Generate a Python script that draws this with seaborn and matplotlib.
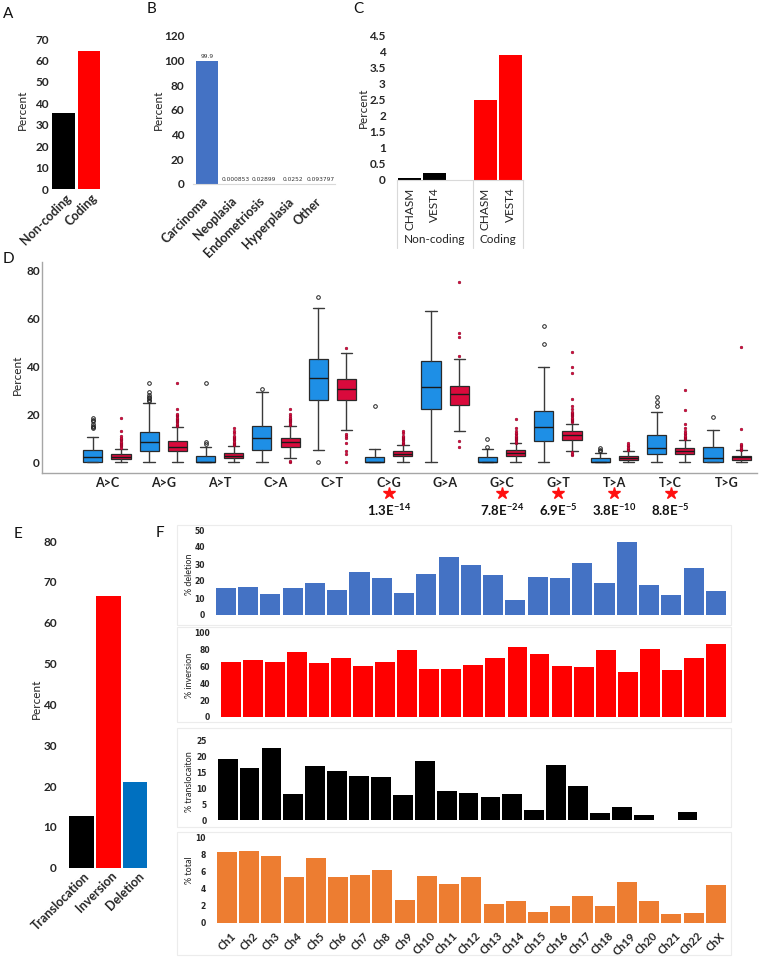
import numpy as np
import matplotlib
matplotlib.use("Agg")
import matplotlib.pyplot as plt
import matplotlib.transforms as mtransforms
from matplotlib.patches import Rectangle
import seaborn as sns

sns.set_style("white")
plt.rcParams["font.family"] = ["Lato", "DejaVu Sans"]
plt.rcParams["mathtext.fontset"] = "custom"
plt.rcParams["mathtext.rm"] = "Lato"
plt.rcParams["mathtext.bf"] = "Lato:bold"

# ---- data ----
# A
coding_labels = ["Non-coding", "Coding"]
coding_pct = [35.7, 64.3]

# B
disease_labels = ["Carcinoma", "Neoplasia", "Endometriosis", "Hyperplasia", "Other"]
disease_pct = [99.9, 0.000853, 0.02899, 0.0252, 0.093797]
disease_text = ["99.9", "0.000853", "0.02899", "0.0252", "0.093797"]

# C
tool_labels = ["CHASM", "VEST4", "CHASM", "VEST4"]
tool_groups = ["Non-coding", "Non-coding", "Coding", "Coding"]
tool_pct = [0.05, 0.22, 2.5, 3.92]

# D  (box summaries: low whisker, q1, median, q3, high whisker)
mut_types = ["A>C", "A>G", "A>T", "C>A", "C>T", "C>G",
             "G>A", "G>C", "G>T", "T>A", "T>C", "T>G"]
blue_whislo = [0, 0, 0, 0, 5.0, 0, 0, 0, 0, 0, 0, 0]
blue_q1 = [0, 4.4, 0, 5.0, 25.8, 0, 22.0, 0, 8.75, 0, 3.5, 0]
blue_med = [2.2, 8.2, 0, 9.9, 34.9, 0, 31.1, 0, 14.6, 0.2, 5.7, 1.7]
blue_q3 = [5.0, 12.6, 2.5, 15.0, 42.9, 2.0, 42.0, 2.0, 21.1, 1.5, 11.4, 6.1]
blue_whishi = [10.3, 24.7, 6.4, 29.3, 64.3, 5.3, 63.0, 5.3, 39.4, 3.9, 20.7, 13.3]
blue_fliers = [
    [14, 14.5, 15, 16, 17, 17.5, 18.5],
    [25.5, 26, 26.5, 27, 28, 29, 33],
    [7.5, 8.2, 33],
    [30.5],
    [0, 68.6],
    [23.5],
    [],
    [6.2, 9.4],
    [49.4, 56.7],
    [4.5, 5.2, 6.0],
    [23.3, 25.1, 27.1],
    [18.6],
]
red_whislo = [0, 0, 0, 1.5, 13.3, 0, 12.8, 0, 4.6, 0, 0, 0]
red_q1 = [1.1, 4.7, 1.7, 6.4, 25.8, 2.5, 23.8, 2.6, 9.3, 0.8, 3.2, 0.8]
red_med = [2.1, 6.4, 2.6, 8.3, 30.3, 3.5, 28.2, 3.9, 11.25, 1.7, 4.6, 1.9]
red_q3 = [3.3, 8.75, 3.75, 10.0, 34.4, 4.6, 31.7, 5.0, 12.9, 2.5, 6.0, 2.6]
red_whishi = [5.6, 14.7, 6.7, 15.0, 45.6, 7.1, 42.9, 7.8, 16.0, 4.6, 9.2, 4.9]
red_fliers = [
    [6, 6.5, 7, 7.5, 8, 8.5, 9, 9.5, 10, 11, 13, 18.2],
    [15, 15.5, 16, 16.5, 17, 17.5, 18, 18.5, 19, 19.5, 20, 22, 33],
    [7, 7.5, 8, 8.5, 9, 9.5, 10, 10.5, 11, 12, 13, 14],
    [0, 0.5, 15.5, 16, 16.5, 17, 17.5, 18, 18.5, 19, 20, 22],
    [0, 3.3, 4.6, 8.1, 9.9, 11, 11.7, 47.4],
    [7.5, 8, 8.5, 9, 9.5, 10, 10.5, 11, 12, 13],
    [6.4, 8.75, 44.3, 52, 53.6, 74.9],
    [8, 8.5, 9, 9.5, 10, 10.5, 11, 11.5, 12, 13, 14, 17.8],
    [3, 3.5, 4, 16.5, 17, 17.5, 18, 18.5, 19, 19.5, 20, 20.5, 21, 22, 23.3,
     26.25, 37.2, 39.6, 45.7],
    [5, 5.5, 6, 6.5, 7, 8],
    [9.5, 10, 10.5, 11, 11.5, 12, 13, 14, 16, 21.5, 29.9],
    [5.2, 5.6, 6, 6.5, 7, 7.5, 13.75, 47.8],
]
pvalue_types = ["C>G", "G>C", "G>T", "T>A", "T>C"]
pvalue_text = [r"$\mathbf{1.3E^{-14}}$", r"$\mathbf{7.8E^{-24}}$", r"$\mathbf{6.9E^{-5}}$",
               r"$\mathbf{3.8E^{-10}}$", r"$\mathbf{8.8E^{-5}}$"]

# E
sv_labels = ["Translocation", "Inversion", "Deletion"]
sv_pct = [12.6, 66.6, 20.9]

# F
chrom_labels = ["Ch%d" % i for i in range(1, 23)] + ["ChX"]
pct_deletion = [15.7, 16.3, 12.2, 15.6, 18.7, 14.8, 25.4, 21.9, 13.2, 24.4, 34.4, 29.5,
                23.4, 8.9, 22.2, 21.9, 30.5, 19.1, 42.9, 17.5, 12.0, 27.6, 14.2]
pct_inversion = [65.2, 67.2, 65.2, 76.2, 64.0, 69.9, 60.5, 64.8, 78.6, 57.0, 56.2, 61.7,
                 69.2, 82.5, 74.3, 60.5, 58.5, 78.6, 53.0, 80.5, 55.8, 69.5, 86.0]
pct_translocation = [19.2, 16.4, 22.7, 8.1, 17.0, 15.3, 14.0, 13.6, 7.9, 18.7, 9.2, 8.6,
                     7.4, 8.3, 3.2, 17.4, 10.7, 2.1, 4.2, 1.7, 0, 2.5, 0]
pct_total = [8.3, 8.4, 7.8, 5.4, 7.6, 5.3, 5.6, 6.2, 2.6, 5.5, 4.5, 5.3,
             2.2, 2.5, 1.3, 2.0, 3.1, 2.0, 4.8, 2.5, 1.0, 1.1, 4.4]

# ---- layout helpers ----
W, H = 761, 960
fig = plt.figure(figsize=(W / 100, H / 100), dpi=100)
TICK = "#262626"


def box(l, t, r, b):
    return [l / W, 1 - b / H, (r - l) / W, (b - t) / H]


def ftext(x, y, s, **kw):
    fig.text(x / W, 1 - y / H, s, **kw)


def clean(ax):
    for s in ax.spines.values():
        s.set_visible(False)
    ax.set_xlabel("")
    ax.set_ylabel("")


def yticks(ax, ticks, size=8.5, pad=3, family=None):
    ax.set_yticks(ticks)
    ax.tick_params(axis="y", length=0, pad=pad, labelsize=size, labelcolor=TICK)
    for lab in ax.get_yticklabels():
        lab.set_fontweight("bold")
        if family:
            lab.set_family(family)


def rot_xticks(ax, labels, size, pad, dx):
    ax.set_xticks(range(len(labels)), labels, rotation=45, ha="right",
                  fontsize=size, fontweight="bold", color=TICK)
    ax.tick_params(axis="x", length=0, pad=pad)
    off = mtransforms.ScaledTranslation(dx / 100, 0, fig.dpi_scale_trans)
    for lab in ax.get_xticklabels():
        lab.set_transform(lab.get_transform() + off)


# panel letters
for x, y, s in [(8, 14, "A"), (151, 9, "B"), (358, 9, "C"), (8, 259, "D"),
                (18, 534, "E"), (160, 533, "F")]:
    ftext(x, y, s, fontsize=11, ha="center", va="center", color="#111111")

# ---- A ----
axA = fig.add_axes(box(50.75, 39, 101.75, 189))
sns.barplot(x=coding_labels, y=coding_pct, hue=coding_labels, saturation=1,
            palette=["#000000", "#FF0000"], width=0.9, linewidth=0, legend=False, ax=axA)
clean(axA)
axA.set_xlim(-0.5, 1.5)
axA.set_ylim(0, 70)
yticks(axA, range(0, 71, 10), pad=1.5)
rot_xticks(axA, coding_labels, 9, 2, 10)
ftext(22, 110, "Percent", rotation=90, ha="center", va="center", fontsize=8.5, color="#222222")

# ---- B ----
axB = fig.add_axes(box(192.7, 36, 335.2, 184))
sns.barplot(x=disease_labels, y=disease_pct, color="#4472C4", width=0.77, saturation=1,
            linewidth=0, ax=axB)
clean(axB)
axB.spines["bottom"].set_visible(True)
axB.spines["bottom"].set_color("#d9d9d9")
axB.set_xlim(-0.5, 4.5)
axB.set_ylim(0, 120)
yticks(axB, range(0, 121, 20), pad=6)
rot_xticks(axB, disease_labels, 9, 8, 3)
for i, (v, t) in enumerate(zip(disease_pct, disease_text)):
    axB.annotate(t, (i, v), xytext=(0, 1.5), textcoords="offset points",
                 ha="center", va="bottom", fontsize=4.2, color="#333333",
                 family="DejaVu Sans")
ftext(158, 110, "Percent", rotation=90, ha="center", va="center", fontsize=8.5, color="#222222")

# ---- C ----
axC = fig.add_axes(box(397, 36, 523, 180))
tool_keys = [g + " " + t for g, t in zip(tool_groups, tool_labels)]
tool_order = tool_keys[:2] + [" "] + tool_keys[2:]
sns.barplot(x=tool_keys, y=tool_pct, hue=tool_keys, order=tool_order, saturation=1,
            palette=["#000000", "#000000", "#FF0000", "#FF0000"], width=0.91,
            linewidth=0, legend=False, ax=axC)
clean(axC)
axC.spines["bottom"].set_visible(True)
axC.spines["bottom"].set_color("#d9d9d9")
axC.set_xlim(-0.5, 4.5)
axC.set_ylim(0, 4.5)
yticks(axC, np.arange(0, 4.51, 0.5), pad=8)
axC.set_yticklabels(["0", "0.5", "1", "1.5", "2", "2.5", "3", "3.5", "4", "4.5"])
for lab in axC.get_yticklabels():
    lab.set_fontweight("bold")
axC.set_xticks([0, 1, 3, 4], tool_labels, rotation=90, fontsize=8.5, color="#222222")
axC.tick_params(axis="x", length=0, pad=5.5)
xt = axC.get_xaxis_transform()
for xs in [-0.5, 2.5, 4.5]:
    axC.plot([xs, xs], [0, -0.47], transform=xt, color="#d9d9d9", lw=0.8, clip_on=False)
for xs, g in [(1.0, "Non-coding"), (3.5, "Coding")]:
    axC.text(xs, -0.415, g, transform=xt, ha="center", va="center", fontsize=8.5, color="#222222")
ftext(363, 108, "Percent", rotation=90, ha="center", va="center", fontsize=8.5, color="#222222")

# ---- D ----
BLUE, CRIMSON = "#1E8FE6", "#DA0A3C"
axD = fig.add_axes(box(42, 261.7, 757, 472.7))
pos = np.arange(len(mut_types))


def box_stats(lo, q1, med, q3, hi, fl):
    return [dict(whislo=a, q1=b, med=c, q3=d, whishi=e, fliers=f)
            for a, b, c, d, e, f in zip(lo, q1, med, q3, hi, fl)]


common = dict(widths=0.34, patch_artist=True, capwidths=0.2, manage_ticks=False,
              medianprops=dict(color="#1a1a1a", lw=1.0),
              whiskerprops=dict(color="#3a3a3a", lw=1.0),
              capprops=dict(color="#3a3a3a", lw=1.0))
axD.bxp(box_stats(blue_whislo, blue_q1, blue_med, blue_q3, blue_whishi, blue_fliers),
        positions=pos - 0.25,
        boxprops=dict(facecolor=BLUE, edgecolor="#2a2a2a", lw=0.9),
        flierprops=dict(marker="o", ms=2.6, mfc="none", mec="#222222", mew=0.7),
        **common)
axD.bxp(box_stats(red_whislo, red_q1, red_med, red_q3, red_whishi, red_fliers),
        positions=pos + 0.25,
        boxprops=dict(facecolor=CRIMSON, edgecolor="#2a2a2a", lw=0.9),
        flierprops=dict(marker="o", ms=2.0, mfc=CRIMSON, mec="#7a0020", mew=0.3),
        **common)
axD.set_xlim(-1.15, 11.53)
axD.set_ylim(-4.45, 83.5)
for s in ["top", "right"]:
    axD.spines[s].set_visible(False)
for s in ["left", "bottom"]:
    axD.spines[s].set_color("#a6a6a6")
    axD.spines[s].set_linewidth(1.0)
yticks(axD, range(0, 81, 20), size=8.5, pad=1.5)
axD.set_xticks(pos, mut_types, fontsize=9, fontweight="bold", color="#222222")
axD.tick_params(axis="x", length=0, pad=3)
xtD = axD.get_xaxis_transform()
for m, t in zip(pvalue_types, pvalue_text):
    i = mut_types.index(m)
    axD.plot([i], [-0.095], marker="*", ms=9, color="#FF1010", mec="#FF1010",
             transform=xtD, clip_on=False)
    axD.text(i, -0.177, t, transform=xtD, ha="center", va="center", fontsize=9.5, color="#111111")
ftext(17, 375, "Percent", rotation=90, ha="center", va="center", fontsize=8.5, color="#222222")

# ---- E ----
axE = fig.add_axes(box(68, 541, 148.5, 867.7))
sns.barplot(x=sv_labels, y=sv_pct, hue=sv_labels, saturation=1,
            palette=["#000000", "#FF0000", "#0070C0"], width=0.92, linewidth=0,
            legend=False, ax=axE)
clean(axE)
axE.set_xlim(-0.5, 2.5)
axE.set_ylim(0, 80)
yticks(axE, range(0, 81, 10), size=8.5, pad=8)
rot_xticks(axE, sv_labels, 9, 1.5, 11)
ftext(36, 699, "Percent", rotation=90, ha="center", va="center", fontsize=8.5, color="#222222")

# ---- F ----
for y0, y1 in [(525, 625), (627, 722), (728, 827), (832, 955)]:
    fig.add_artist(Rectangle((177 / W, 1 - y1 / H), (731 - 177) / W, (y1 - y0) / H,
                             transform=fig.transFigure, fill=False,
                             edgecolor="#ececec", lw=0.8))

f_panels = [
    (pct_deletion, "#4472C4", (214.7, 530, 727, 615), 50, 10, "% deletion", 574),
    (pct_inversion, "#FF0000", (219.7, 632.3, 727, 717), 100, 20, "% inversion", 675),
    (pct_translocation, "#000000", (216.7, 740.7, 720.4, 820), 25, 5, "% translocaiton", 782),
    (pct_total, "#ED7D31", (215.7, 837.3, 727, 922.7), 10, 2, "% total", 870),
]
for k, (vals, col, rect, ymax, step, lab, ly) in enumerate(f_panels):
    ax = fig.add_axes(box(*rect))
    sns.barplot(x=chrom_labels, y=vals, color=col, width=0.9, linewidth=0,
                saturation=1, ax=ax)
    clean(ax)
    ax.set_xlim(-0.5, 22.5)
    ax.set_ylim(0, ymax)
    yticks(ax, range(0, ymax + 1, step), size=5.5, pad=7, family="DejaVu Sans")
    if k == len(f_panels) - 1:
        rot_xticks(ax, chrom_labels, 8, 5.5, 11)
    else:
        ax.set_xticks([])
    ftext(190, ly, lab, rotation=90, ha="center", va="center", fontsize=6.5, color="#222222")

fig.savefig("out.png", dpi=100)
